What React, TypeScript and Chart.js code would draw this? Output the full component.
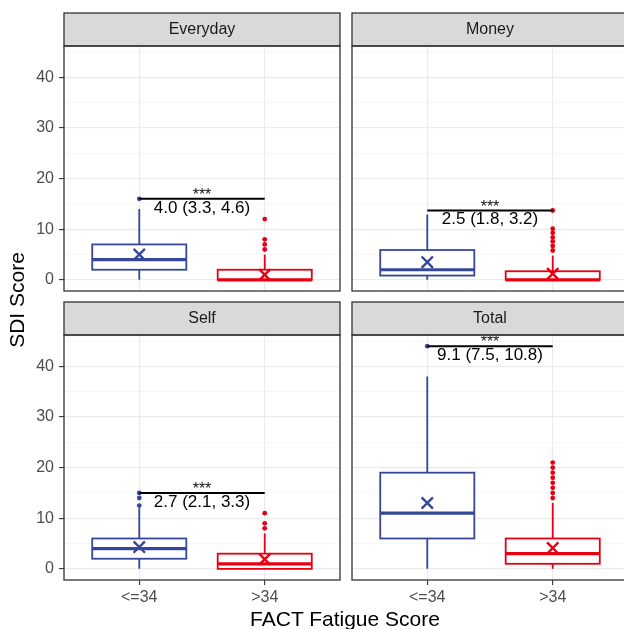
import React, { useEffect, useRef } from "react";
import { Chart, registerables } from "chart.js";

Chart.register(...registerables);

// ---------------- data ----------------
const panelNames = ["Everyday", "Money", "Self", "Total"];
const groupLabels = ["<=34", ">34"];
const yTickValues = [0, 5, 10, 15, 20, 25, 30, 35, 40, 45];
const yMajorTicks = [0, 10, 20, 30, 40];

// five-number boxes: [lower whisker, Q1, median, Q3, upper whisker]
const everydayLow = [0, 2, 4, 7, 14];
const everydayHigh = [0, 0, 0, 2, 5];
const moneyLow = [0, 0.85, 2, 5.9, 12.9];
const moneyHigh = [0, 0, 0, 1.7, 4.8];
const selfLow = [0, 2, 4, 6, 12];
const selfHigh = [0, 0, 1, 3, 7];
const totalLow = [0, 6, 11, 19, 38];
const totalHigh = [0, 1, 3, 6, 13];

// outliers
const everydayOutLow = [16];
const everydayOutHigh = [6, 7, 8, 12];
const moneyOutLow: number[] = [];
const moneyOutHigh = [5.8, 6.7, 7.6, 8.4, 9.3, 10.1, 13.7];
const selfOutLow = [12.5, 14, 15];
const selfOutHigh = [8, 9, 11];
const totalOutLow = [44];
const totalOutHigh = [14, 15, 16, 17, 18, 19, 20, 21];

// means (X markers), per panel
const meansLow = [5.0, 3.5, 4.3, 13.0];
const meansHigh = [1.0, 1.2, 1.9, 4.1];

// significance bars
const sigValues = [16, 13.7, 15, 44];
const sigStars = ["***", "***", "***", "***"];
const sigLabels = ["4.0 (3.3, 4.6)", "2.5 (1.8, 3.2)", "2.7 (2.1, 3.3)", "9.1 (7.5, 10.8)"];

const boxes = [
  [everydayLow, everydayHigh],
  [moneyLow, moneyHigh],
  [selfLow, selfHigh],
  [totalLow, totalHigh],
];
const outliers = [
  [everydayOutLow, everydayOutHigh],
  [moneyOutLow, moneyOutHigh],
  [selfOutLow, selfOutHigh],
  [totalOutLow, totalOutHigh],
];

// ---------------- style ----------------
const FONT = "'Liberation Sans', Arial, Helvetica, sans-serif";
const BLUE = "#36479A";
const RED = "#E60012";
const groupColors = [BLUE, RED];
const BOX_HALF = 0.375;
const CW = 640;
const CH = 629;
const Y_W = 40;
const X_H = 30;
const STRIP_H = 33;

Chart.defaults.font.family = FONT;

function makePlugin(idx: number) {
  return {
    id: "facetBox" + idx,
    beforeDatasetsDraw(chart: any) {
      const { ctx, chartArea: a, scales } = chart;
      const x = scales.x;
      const y = scales.y;
      ctx.save();
      ctx.beginPath();
      ctx.rect(a.left, a.top, a.right - a.left, a.bottom - a.top);
      ctx.clip();
      boxes[idx].forEach((s: number[], g: number) => {
        const cx = x.getPixelForValue(g + 1);
        const x0 = x.getPixelForValue(g + 1 - BOX_HALF);
        const x1 = x.getPixelForValue(g + 1 + BOX_HALF);
        const [lo, q1, med, q3, hi] = s.map((v) => y.getPixelForValue(v));
        ctx.strokeStyle = groupColors[g];
        ctx.lineWidth = 1.8;
        ctx.beginPath();
        ctx.moveTo(cx, lo);
        ctx.lineTo(cx, q1);
        ctx.moveTo(cx, q3);
        ctx.lineTo(cx, hi);
        ctx.stroke();
        ctx.fillStyle = "#ffffff";
        ctx.fillRect(x0, q3, x1 - x0, q1 - q3);
        ctx.strokeRect(x0, q3, x1 - x0, q1 - q3);
        ctx.lineWidth = 3.2;
        ctx.beginPath();
        ctx.moveTo(x0, med);
        ctx.lineTo(x1, med);
        ctx.stroke();
      });
      ctx.restore();
    },
    afterDatasetsDraw(chart: any) {
      const { ctx, chartArea: a, scales } = chart;
      const x = scales.x;
      const y = scales.y;
      const w = a.right - a.left;
      const h = a.bottom - a.top;
      ctx.save();
      ctx.beginPath();
      ctx.rect(a.left, a.top, w, h);
      ctx.clip();
      const mid = x.getPixelForValue(1.5);
      const ly = y.getPixelForValue(sigValues[idx]);
      ctx.fillStyle = "#111111";
      ctx.textAlign = "center";
      ctx.font = `16px ${FONT}`;
      ctx.textBaseline = "alphabetic";
      ctx.fillText(sigStars[idx], mid, ly + 1);
      ctx.fillStyle = "#000000";
      ctx.font = `17px ${FONT}`;
      ctx.textBaseline = "middle";
      ctx.fillText(sigLabels[idx], mid, ly + 9);
      ctx.restore();

      ctx.save();
      // strip
      ctx.fillStyle = "#D9D9D9";
      ctx.fillRect(a.left, a.top - STRIP_H, w, STRIP_H);
      ctx.strokeStyle = "#333333";
      ctx.lineWidth = 1.3;
      ctx.strokeRect(a.left, a.top - STRIP_H, w, STRIP_H);
      ctx.fillStyle = "#1A1A1A";
      ctx.font = `16px ${FONT}`;
      ctx.textAlign = "center";
      ctx.textBaseline = "middle";
      ctx.fillText(panelNames[idx], (a.left + a.right) / 2, a.top - STRIP_H / 2);
      // panel border
      ctx.strokeRect(a.left, a.top, w, h);
      ctx.restore();
    },
  };
}

function makeConfig(idx: number): any {
  const col = idx % 2;
  const row = Math.floor(idx / 2);
  const L = col === 0 ? 64 : 352;
  const R = col === 0 ? 340 : 628;
  const T = row === 0 ? 46 : 335;
  const B = row === 0 ? 291 : 580;
  const isMajor = (v: number) => yMajorTicks.includes(v);

  const datasets: any[] = [
    {
      type: "line",
      data: [
        { x: 1, y: sigValues[idx] },
        { x: 2, y: sigValues[idx] },
      ],
      borderColor: "#000000",
      borderWidth: 2,
      pointRadius: 0,
      order: 0,
    },
    {
      data: [
        { x: 1, y: meansLow[idx] },
        { x: 2, y: meansHigh[idx] },
      ],
      pointStyle: "crossRot",
      pointRadius: 8,
      borderWidth: 2.4,
      borderColor: [BLUE, RED],
      backgroundColor: [BLUE, RED],
      order: 1,
    },
  ];
  outliers[idx].forEach((arr: number[], g: number) => {
    datasets.push({
      data: arr.map((v) => ({ x: g + 1, y: v })),
      pointRadius: 2.4,
      borderWidth: 0,
      backgroundColor: groupColors[g],
      order: 2,
    });
  });

  return {
    type: "scatter",
    data: { datasets },
    options: {
      responsive: false,
      animation: false,
      devicePixelRatio: 1,
      events: [],
      layout: {
        padding: { left: L - Y_W, right: CW - R, top: T, bottom: CH - B - X_H },
      },
      plugins: { legend: { display: false }, tooltip: { enabled: false } },
      scales: {
        x: {
          type: "linear",
          min: 0.4,
          max: 2.6,
          afterBuildTicks: (s: any) => {
            s.ticks = groupLabels.map((_, i) => ({ value: i + 1 }));
          },
          afterFit: (s: any) => {
            s.height = X_H;
          },
          ticks: {
            display: row === 1,
            autoSkip: false,
            maxRotation: 0,
            callback: (v: number) => groupLabels[Math.round(v) - 1],
            color: "#4D4D4D",
            font: { size: 16 },
            padding: 3,
          },
          grid: {
            color: "#EBEBEB",
            lineWidth: 1.2,
            drawTicks: row === 1,
            tickLength: 5,
            tickColor: "#333333",
            tickWidth: 1.1,
          },
          border: { display: false },
        },
        y: {
          type: "linear",
          min: -2.2,
          max: 46.2,
          afterBuildTicks: (s: any) => {
            s.ticks = yTickValues.map((v) => ({ value: v }));
          },
          afterFit: (s: any) => {
            s.width = Y_W;
          },
          ticks: {
            display: col === 0,
            autoSkip: false,
            callback: (v: number) => (isMajor(v) ? String(v) : ""),
            color: "#4D4D4D",
            font: { size: 16 },
            padding: 5,
          },
          grid: {
            color: (c: any) => (c.tick && isMajor(c.tick.value) ? "#EBEBEB" : "#F4F4F4"),
            lineWidth: (c: any) => (c.tick && isMajor(c.tick.value) ? 1.2 : 0.8),
            drawTicks: col === 0,
            tickLength: 5,
            tickColor: (c: any) => (c.tick && isMajor(c.tick.value) ? "#333333" : "rgba(0,0,0,0)"),
            tickWidth: 1.1,
          },
          border: { display: false },
        },
      },
    },
    plugins: [makePlugin(idx)],
  };
}

function Panel({ idx }: { idx: number }) {
  const ref = useRef<HTMLCanvasElement | null>(null);
  useEffect(() => {
    if (!ref.current) return;
    const chart = new Chart(ref.current, makeConfig(idx));
    return () => chart.destroy();
  }, [idx]);
  return (
    <canvas
      ref={ref}
      width={CW}
      height={CH}
      style={{ position: "absolute", left: 0, top: 0, width: CW, height: CH }}
    />
  );
}

export default function App() {
  return (
    <div
      style={{
        position: "fixed",
        left: 0,
        top: 0,
        width: 624,
        height: 629,
        overflow: "hidden",
        background: "#ffffff",
      }}
    >
      {panelNames.map((_, i) => (
        <Panel key={i} idx={i} />
      ))}
      <div
        style={{
          position: "absolute",
          left: 0,
          top: 607,
          width: 690,
          height: 24,
          lineHeight: "24px",
          textAlign: "center",
          font: `21px ${FONT}`,
          color: "#000000",
          whiteSpace: "nowrap",
        }}
      >
        FACT Fatigue Score
      </div>
      <div
        style={{
          position: "absolute",
          left: 17 - 150,
          top: 300 - 12,
          width: 300,
          height: 24,
          lineHeight: "24px",
          textAlign: "center",
          font: `21px ${FONT}`,
          color: "#000000",
          whiteSpace: "nowrap",
          transform: "rotate(-90deg)",
          transformOrigin: "50% 50%",
        }}
      >
        SDI Score
      </div>
    </div>
  );
}
